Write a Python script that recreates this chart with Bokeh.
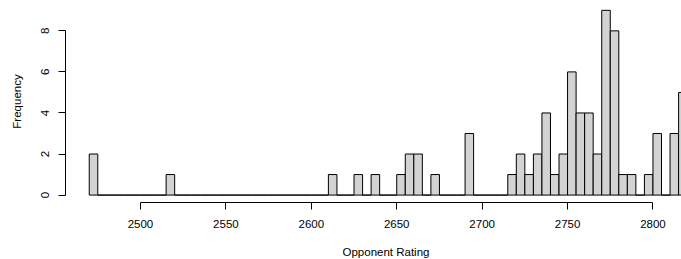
from bokeh.plotting import figure
from bokeh.models import FixedTicker, Range1d, Title
from bokeh.embed import file_html
from bokeh.resources import INLINE

# ---- data (histogram of opponent ratings, bin width 5) ----
bin_width = 5
bin_left = list(range(2470, 2820, bin_width))
counts = [
    2, 0, 0, 0, 0, 0, 0, 0, 0, 1,          # 2470 - 2515
    0, 0, 0, 0, 0, 0, 0, 0, 0, 0,          # 2520 - 2565
    0, 0, 0, 0, 0, 0, 0, 0, 1, 0,          # 2570 - 2615
    0, 1, 0, 1, 0, 0, 1, 2, 2, 0,          # 2620 - 2665
    1, 0, 0, 0, 3, 0, 0, 0, 0, 1,          # 2670 - 2715
    2, 1, 2, 4, 1, 2, 6, 4, 4, 2,          # 2720 - 2765
    9, 8, 1, 1, 0, 1, 3, 0, 3, 5,          # 2770 - 2815
]
x_ticks = [2500, 2550, 2600, 2650, 2700, 2750, 2800]
y_ticks = [0, 2, 4, 6, 8]
x_title = "Opponent Rating"
y_title = "Frequency"

FONT = "Liberation Sans"
FS = "11.5px"

p = figure(width=681, height=259, output_backend="svg", toolbar_location=None,
           x_range=Range1d(2456.1, 2816.7), y_range=Range1d(-0.361, 9.478),
           min_border_left=65, min_border_right=0, min_border_top=0,
           min_border_bottom=57)
p.outline_line_color = None
p.grid.visible = False
p.background_fill_color = "white"
p.border_fill_color = "white"

right = [b + bin_width for b in bin_left]
p.quad(left=bin_left, right=right, bottom=0, top=counts,
       fill_color="#D3D3D3", line_color="black", line_width=1)

for ax in (p.xaxis[0], p.yaxis[0]):
    ax.axis_line_color = "black"
    ax.major_tick_line_color = "black"
    ax.minor_tick_line_color = None
    ax.major_tick_in = 0
    ax.major_tick_out = 7
    ax.major_label_text_font = FONT
    ax.major_label_text_font_size = FS
    ax.major_label_text_color = "black"

p.xaxis.major_label_standoff = 10
p.yaxis.major_label_standoff = 9
p.xaxis.ticker = FixedTicker(ticks=x_ticks)
p.xaxis.bounds = (x_ticks[0], x_ticks[-1])
p.yaxis.ticker = FixedTicker(ticks=y_ticks)
p.yaxis.bounds = (y_ticks[0], y_ticks[-1])
p.yaxis.major_label_orientation = "vertical"

# spacer so that the (offset) x title sits lower, as in the reference
p.xaxis.axis_label = " "
p.xaxis.axis_label_standoff = 0
p.xaxis.axis_label_text_font_size = "9px"

p.yaxis.axis_label = y_title
p.yaxis.axis_label_text_font = FONT
p.yaxis.axis_label_text_font_size = FS
p.yaxis.axis_label_text_font_style = "normal"
p.yaxis.axis_label_text_color = "black"
p.yaxis.axis_label_standoff = 16

p.add_layout(Title(text=x_title, align="left", offset=277, standoff=1,
                   vertical_align="bottom",
                   text_font=FONT, text_font_size=FS, text_font_style="normal",
                   text_color="black"), "below")

open("out.html", "w").write(file_html(p, INLINE))
